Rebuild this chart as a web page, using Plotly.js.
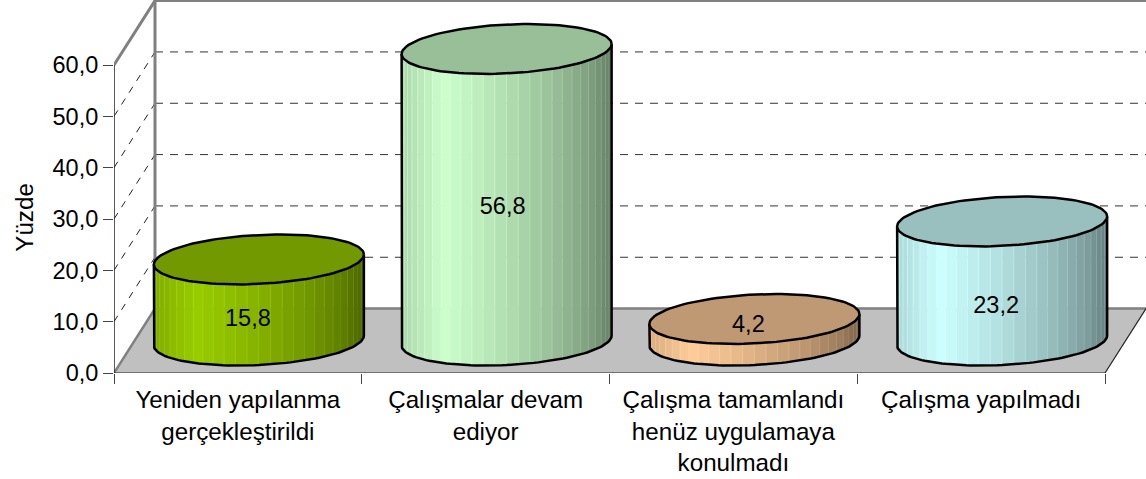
<!DOCTYPE html>
<html><head><meta charset="utf-8"><script src="https://cdn.plot.ly/plotly-3.0.1.min.js"></script>
<style>html,body{margin:0;padding:0;background:#fff;overflow:hidden}</style></head>
<body><div id="chart" style="width:1146px;height:479px"></div>
<script>
var categories = ["Yeniden yapılanma<br>gerçekleştirildi", "Çalışmalar devam<br>ediyor", "Çalışma tamamlandı<br>henüz uygulamaya<br>konulmadı", "Çalışma yapılmadı"];
var values = [15.8, 56.8, 4.2, 23.2];
var valueLabels = ["15,8", "56,8", "4,2", "23,2"];
var yTicks = [0, 10, 20, 30, 40, 50, 60];
var yTickLabels = ["0,0", "10,0", "20,0", "30,0", "40,0", "50,0", "60,0"];
var yTitle = "Yüzde";

// styling and geometry
var baseColors = [[153,204,0],[204,255,204],[255,204,153],[204,255,255]];
var FONT = "Liberation Sans, Arial, sans-serif", FS = 23.5, FSX = 24.2;
var PXX = 247.75, PXY = 5.14;            // pixels per category / per value unit
var L = 114, BOT = 373.5, W = 1146, H = 479;
var DX = 41/PXX, DY = 64.5/PXY;          // wall depth in axis units
var CX = 21/PXX, CY = 32.5/PXY;          // cylinder centre offset
var RX = 105/PXX, RY = 24.5/PXY, SK = 5/PXY; // ellipse
var labelDx = [10, 17, 15, 15];
var labelCenters = [321, 208, 327, 308];
var N = 28;
var X0 = -0.5, X4 = 3.5;
var traces = [];
function poly(xs, ys, fill, lineCol, lw){
  traces.push({type:'scatter',mode:'lines',x:xs,y:ys,fill:'toself',fillcolor:fill,
    line:{color:lineCol||fill,width:lw===undefined?0:lw},hoverinfo:'skip',showlegend:false,cliponaxis:false});
}
function line(xs, ys, col, w, dash){
  traces.push({type:'scatter',mode:'lines',x:xs,y:ys,line:{color:col,width:w,dash:dash||'solid'},
    hoverinfo:'skip',showlegend:false,cliponaxis:false,connectgaps:false});
}
// floor
poly([X0,X0+DX,X4+DX,X4,X0],[0,DY,DY,0,0],'#C0C0C0');
var TOPV = 60;
// grid
var gx=[],gy=[],wx=[],wy=[];
yTicks.forEach(function(v){
  if(v>0 && v<TOPV){gx.push(X0+DX,X4+DX+1,null);gy.push(v+DY,v+DY,null);}
  if(v<TOPV){wx.push(X0,X0+DX,null);wy.push(v,v+DY,null);}
});
line(gx,gy,'#333',1,'8px,7px');
line(wx.slice(3),wy.slice(3),'#222',1,'7px,7px');
// gray frame
line([X0,X0+DX,X4+DX+1],[0,DY,DY],'#808080',2.5);
line([X0+DX,X0+DX],[DY,TOPV+DY],'#808080',3);
line([X0,X0+DX,X4+DX+1],[TOPV,TOPV+DY,TOPV+DY],'#808080',3);
// front axis lines
line([X0,X4],[0,0],'#222',1.2);
line([X4,X4+DX],[0,DY],'#222',1.2);
line([X0,X0],[0,TOPV],'#222',1.5);

function prof(u){
  var p=[[0,.84],[.2,1],[.5,.87],[.75,.73],[.9,.62],[1,.5]];
  for(var i=1;i<p.length;i++) if(u<=p[i][0]){var a=p[i-1],b=p[i];return a[1]+(b[1]-a[1])*(u-a[0])/(b[0]-a[0]);}
  return .5;
}
function rgb(c,k){return 'rgb('+c.map(function(v){return Math.round(v*k)}).join(',')+')';}
values.forEach(function(v,i){
  var cx=i+CX, c=baseColors[i];
  function ex(t){return cx+RX*Math.cos(t);}
  function ey(t,base){return base+CY+RY*Math.sin(t)+SK*Math.cos(t);}
  // side stripes
  for(var s=0;s<N;s++){
    var t0=Math.PI+Math.PI*s/N, t1=Math.PI+Math.PI*(s+1)/N;
    var u=((Math.cos(t0)+Math.cos(t1))/2+1)/2;
    var col=rgb(c,prof(u)), seam=rgb(c,Math.min(1.08,prof(u)+0.10));
    poly([ex(t0),ex(t1),ex(t1),ex(t0),ex(t0)],[ey(t0,0),ey(t1,0),ey(t1,v),ey(t0,v),ey(t0,0)],col,seam,0.5);
  }
  // outlines
  var ax=[],ay=[];
  for(var k=0;k<=72;k++){var t=Math.PI+Math.PI*k/72;ax.push(ex(t));ay.push(ey(t,0));}
  var ox=[ex(Math.PI)].concat(ax,[ex(0)]), oy=[ey(Math.PI,v)].concat(ay,[ey(0,v)]);
  line(ox,oy,'#000',2.5);
  // top
  var tx=[],ty=[];
  for(var k2=0;k2<=120;k2++){var t2=2*Math.PI*k2/120;tx.push(ex(t2));ty.push(ey(t2,v));}
  poly(tx,ty,rgb(c,.75),'#000',2.5);
});
// data labels
traces.push({type:'scatter',mode:'text',x:values.map(function(v,i){return i+labelDx[i]/PXX;}),
  y:labelCenters.map(function(p){return (BOT-p)/PXY;}),text:valueLabels,textposition:'middle center',
  textfont:{family:FONT,size:FS,color:'#000'},hoverinfo:'skip',showlegend:false,cliponaxis:false});

var layout={width:W,height:H,margin:{l:L,r:0,t:0,b:H-BOT,pad:0},paper_bgcolor:'#fff',plot_bgcolor:'rgba(0,0,0,0)',showlegend:false,
  font:{family:FONT,size:FS,color:'#000'},
  xaxis:{range:[X0,X0+(W-L)/PXX],showgrid:false,zeroline:false,showline:false,
    tickmode:'array',tickvals:[0,1,2,3],ticktext:categories,ticks:'outside',ticklen:5,tickcolor:'rgba(0,0,0,0)',
    tickfont:{family:FONT,size:FSX,color:'#000'},tickangle:0,
    minor:{tickmode:'linear',tick0:-0.5,dtick:1,ticks:'outside',ticklen:10,tickwidth:1,tickcolor:'#444',showgrid:false}},
  yaxis:{range:[0,BOT/PXY],showgrid:false,zeroline:false,showline:false,
    tickmode:'array',tickvals:yTicks,ticktext:yTickLabels,ticks:'outside',ticklen:10,tickwidth:1,tickcolor:'#444',
    tickfont:{family:FONT,size:FS,color:'#000'}},
  annotations:[{text:yTitle,textangle:-90,xref:'paper',yref:'y',x:0,xanchor:'center',xshift:-89,y:(BOT-218)/PXY,yanchor:'middle',showarrow:false,
    font:{family:FONT,size:FSX,color:'#000'}}]
};
Plotly.newPlot('chart',traces,layout,{displayModeBar:false,staticPlot:true});
</script></body></html>
